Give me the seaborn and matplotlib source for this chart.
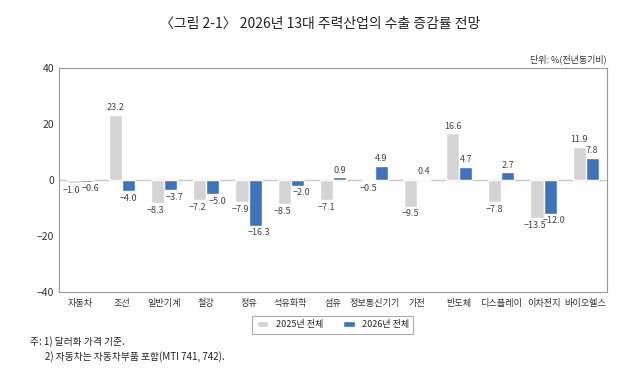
import seaborn as sns
import matplotlib.pyplot as plt
import pandas as pd

# data
industries = ["자동차", "조선", "일반기계", "철강", "정유", "석유화학", "섬유",
              "정보통신기기", "가전", "반도체", "디스플레이", "이차전지", "바이오헬스"]
growth_2025 = [-1.0, 23.2, -8.3, -7.2, -7.9, -8.5, -7.1, -0.5, -9.5, 16.6, -7.8, -13.5, 11.9]
growth_2026 = [-0.6, -4.0, -3.7, -5.0, -16.3, -2.0, 0.9, 4.9, 0.4, 4.7, 2.7, -12.0, 7.8]
series = ["2025년 전체", "2026년 전체"]
y_ticks = [-40, -20, 0, 20, 40]

df = pd.DataFrame({
    "industry": industries * 2,
    "value": growth_2025 + growth_2026,
    "series": [series[0]] * len(industries) + [series[1]] * len(industries),
})

sns.set_style("white")
plt.rcParams["font.family"] = ["Noto Sans CJK KR", "DejaVu Sans"]
plt.rcParams["axes.unicode_minus"] = True

fig = plt.figure(figsize=(6.4, 3.71), dpi=100)
ax = fig.add_axes([0.092, 0.213, 0.856, 0.604])

sns.barplot(data=df, x="industry", y="value", hue="series", order=industries,
            hue_order=series, palette=["#d4d4d4", "#3f73bb"], width=0.62,
            gap=0.0, saturation=1, ax=ax, legend=True)

# value labels, nudged apart where both bars are negative
both_neg = [a < 0 and b < 0 for a, b in zip(growth_2025, growth_2026)]
for k, cont in enumerate(ax.containers):
    labels = [f"{v:.1f}".replace("-", "\u2212") for v in cont.datavalues]
    anns = ax.bar_label(cont, labels=labels, padding=2, fontsize=6.5, color="#444444")
    for i, ann in enumerate(anns):
        if both_neg[i]:
            dx, dy = ann.xyann
            ann.xyann = (dx + (-1.5 if k == 0 else 3), dy)

ax.axhline(0, color="#c8c8c8", linewidth=1, zorder=0)
ax.set_ylim(-40, 40)
ax.set_yticks(y_ticks)
ax.set_yticklabels([str(t).replace("-", "\u2212") for t in y_ticks])
ax.set_xlim(-0.5, len(industries) - 0.5)
ax.set_xlabel("")
ax.set_ylabel("")
ax.tick_params(axis="both", length=0, labelsize=7.5, colors="#333333")
ax.tick_params(axis="x", pad=5, labelsize=6.6)
for s in ax.spines.values():
    s.set_color("#999999")
    s.set_linewidth(0.8)

leg = ax.legend(loc="upper center", bbox_to_anchor=(0.5, -0.085), ncol=2,
                fontsize=6.5, frameon=True, fancybox=False, edgecolor="#999999",
                handlelength=1.3, handleheight=0.7, columnspacing=2.2,
                borderpad=0.5)
leg.get_frame().set_linewidth(0.8)

fig.text(0.5, 0.935, "〈그림 2-1〉 2026년 13대 주력산업의 수출 증감률 전망",
         ha="center", va="center", fontsize=10, color="#222222")
fig.text(0.948, 0.84, "단위: %(전년동기비)", ha="right", va="center",
         fontsize=6.5, color="#333333")
fig.text(0.047, 0.08, "주: 1) 달러화 가격 기준.", ha="left", va="center",
         fontsize=7, color="#222222")
fig.text(0.071, 0.04, "2) 자동차는 자동차부품 포함(MTI 741, 742).", ha="left",
         va="center", fontsize=7, color="#222222")

fig.savefig("out.png", dpi=100)
